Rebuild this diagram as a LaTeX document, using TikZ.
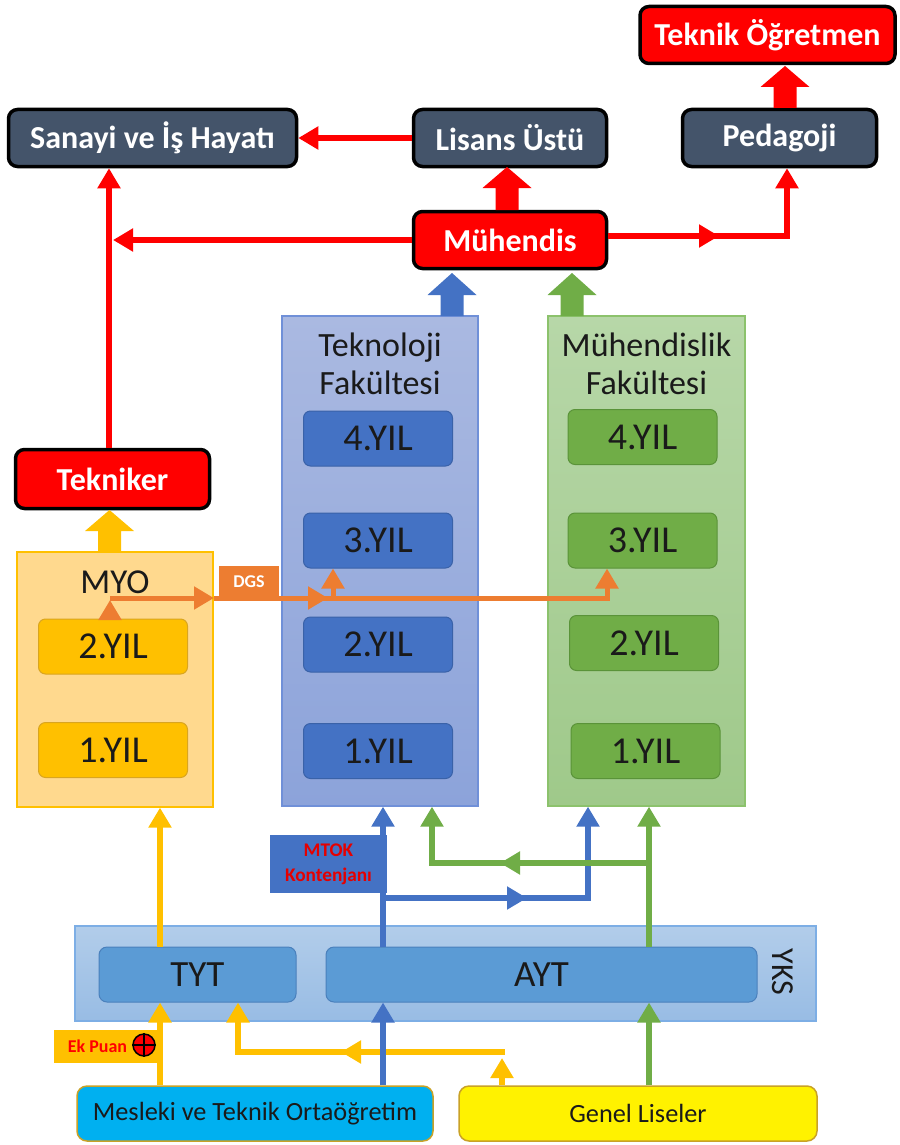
\documentclass[tikz,border=0pt]{standalone}
\usepackage{fontspec}
\setmainfont{Carlito}
\usetikzlibrary{arrows.meta}
\definecolor{slate}{HTML}{44546A}
\definecolor{tekyear}{HTML}{4472C4}
\definecolor{tekyeard}{HTML}{3A62A8}
\definecolor{tektop}{HTML}{AAB9E1}
\definecolor{tekbot}{HTML}{8CA3DA}
\definecolor{tekbord}{HTML}{7090D8}
\definecolor{muhyear}{HTML}{70AD47}
\definecolor{muhyeard}{HTML}{5A9339}
\definecolor{muhtop}{HTML}{B7D7A8}
\definecolor{muhbot}{HTML}{9FC98A}
\definecolor{muhbord}{HTML}{8CC26C}
\definecolor{myoyear}{HTML}{FFC000}
\definecolor{myoyeard}{HTML}{D9A520}
\definecolor{myofill}{HTML}{FFD98E}
\definecolor{ykstop}{HTML}{B2CDEA}
\definecolor{yksbot}{HTML}{98BCE4}
\definecolor{yksbord}{HTML}{7DAEE5}
\definecolor{exam}{HTML}{5B9BD5}
\definecolor{examd}{HTML}{4A80BC}
\definecolor{mesfill}{HTML}{00B0F0}
\definecolor{goldb}{HTML}{C9A227}
\definecolor{yel}{HTML}{FFC000}
\definecolor{blu}{HTML}{4472C4}
\definecolor{grn}{HTML}{70AD47}
\definecolor{org}{HTML}{ED7D31}
\definecolor{txt}{HTML}{1A1A1A}
\newcommand{\blockarr}[5]{%
\fill[#1] ({#2-11.5},#3) -- ({#2-11.5},#4) -- ({#2-24.5},#4) -- (#2,#5) -- ({#2+24.5},#4) -- ({#2+11.5},#4) -- ({#2+11.5},#3) -- cycle;}
\tikzset{
  topbox/.style={draw=black, line width=3.5pt, rounded corners=9pt, fill=slate, text=white,
    font=\fontsize{32}{38}\selectfont\bfseries, minimum height=57pt, inner sep=0pt},
  redbox/.style={topbox, fill=red},
  fac/.style={draw=#1, line width=1.2pt, inner sep=0pt},
  yearbox/.style={rounded corners=7pt, line width=1pt, minimum width=149pt, minimum height=55pt,
    font=\fontsize{38}{44}\selectfont, text=txt, inner sep=0pt},
  titletext/.style={font=\fontsize{34}{38}\selectfont, text=txt, align=center},
  exambox/.style={draw=examd, fill=exam, line width=1pt, rounded corners=8pt, minimum height=55pt,
    font=\fontsize{37}{42}\selectfont, text=txt, inner sep=0pt},
  schoolbox/.style={draw=goldb, line width=1.5pt, rounded corners=10pt, minimum height=55pt,
    font=\fontsize{26.3}{30}\selectfont, text=txt, inner sep=0pt},
  headr/.style={-{Triangle[length=20pt,width=22pt]}},
  redc/.style={draw=red, line width=6pt},
  yelc/.style={draw=yel, line width=6.5pt},
  bluc/.style={draw=blu, line width=6.5pt},
  grnc/.style={draw=grn, line width=6.5pt},
  orgc/.style={draw=org, line width=5pt},
}
\begin{document}
\begin{tikzpicture}[x=1pt,y=-1pt]
\useasboundingbox (0,0) rectangle (899,1145);

% ---------- top boxes ----------
\node[redbox, minimum width=255pt] (tok) at (767.5,35) {Teknik Öğretmen};
\node[topbox, minimum width=288pt] (san) at (152.5,138) {Sanayi ve İş Hayatı};
\node[topbox, minimum width=193pt] (lis) at (510,138) {Lisans Üstü};
\node[topbox, minimum width=194pt] (ped) at (779.5,138) {Pedagoji};
\node[redbox, minimum width=193pt] (muh) at (510,240) {Mühendis};
\node[redbox, minimum width=194pt, minimum height=59pt] (tekn) at (112.5,479) {Tekniker};

% ---------- faculty columns ----------
\node[fac=tekbord, top color=tektop, bottom color=tekbot, minimum width=196pt, minimum height=490pt] (tek) at (380,561) {};
\node[fac=muhbord, top color=muhtop, bottom color=muhbot, minimum width=197pt, minimum height=490pt] (muhf) at (646.5,561) {};
\node[fac=myoyear, fill=myofill, minimum width=196pt, minimum height=255pt] (myo) at (115,679.5) {};

\node[titletext] (tekt) at (380,364) {Teknoloji\\Fakültesi};
\node[titletext] (muht) at (646.5,364) {Mühendislik\\Fakültesi};
\node[titletext, font=\fontsize{35}{40}\selectfont] (myot) at (115,582) {MYO};

\node[yearbox, draw=tekyeard, fill=tekyear] (t4) at (378,438.5) {4.YIL};
\node[yearbox, draw=tekyeard, fill=tekyear] (t3) at (378,540.5) {3.YIL};
\node[yearbox, draw=tekyeard, fill=tekyear] (t2) at (378,644.5) {2.YIL};
\node[yearbox, draw=tekyeard, fill=tekyear] (t1) at (378,751) {1.YIL};

\node[yearbox, draw=muhyeard, fill=muhyear] (m4) at (642.5,437) {4.YIL};
\node[yearbox, draw=muhyeard, fill=muhyear] (m3) at (642.5,540.5) {3.YIL};
\node[yearbox, draw=muhyeard, fill=muhyear] (m2) at (644,643) {2.YIL};
\node[yearbox, draw=muhyeard, fill=muhyear] (m1) at (645.5,751) {1.YIL};

\node[yearbox, draw=myoyeard, fill=myoyear] (y2) at (113,646.5) {2.YIL};
\node[yearbox, draw=myoyeard, fill=myoyear] (y1) at (113,750) {1.YIL};

% ---------- YKS ----------
\node[draw=yksbord, line width=1.2pt, top color=ykstop, bottom color=yksbot, minimum width=741pt, minimum height=95pt, inner sep=0pt] (yks) at (445.5,973.5) {};
\node[exambox, minimum width=197pt] (tyt) at (197.5,974.5) {TYT};
\node[exambox, minimum width=431pt] (ayt) at (541.5,974.5) {AYT};
\node[rotate=-90, font=\fontsize{32}{36}\selectfont, text=txt] (ykst) at (783,972) {YKS};

% ---------- schools ----------
\node[schoolbox, fill=mesfill, minimum width=356pt] (mes) at (255,1113.5) {Mesleki ve Teknik Ortaöğretim};
\node[schoolbox, fill=yellow, minimum width=358pt] (gen) at (638,1113.5) {Genel Liseler};

% ---------- block arrows ----------
\blockarr{red}{507}{210}{188}{167}
\blockarr{red}{785}{108}{87}{66}
\blockarr{yel}{109.5}{552}{531}{510}
\blockarr{blu}{452}{316}{295}{273}
\blockarr{grn}{572}{316}{295}{273}

% ---------- red connectors ----------
\coordinate (rv) at (109,240);
\coordinate (rp) at (787,236);
\draw[redc, headr] (lis.west) -- (san.east);
\draw[redc, headr] (muh.west) -- ([xshift=4pt]rv);
\draw[redc, headr] (tekn.north -| rv) -- (san.south -| rv);
\draw[redc, headr] (muh.east |- rp) -- (rp) -- (ped.south -| rp);
\draw[redc, headr] (697,236) -- (719,236);

% ---------- yellow connectors ----------
\coordinate (yx) at (160,0);
\coordinate (yg) at (502,1052);
\coordinate (yt) at (238,1052);
\draw[yelc, headr] (mes.north -| yx) -- (tyt.south -| yx);
\draw[yelc, headr] (tyt.north -| yx) -- (myo.south -| yx);
\draw[yelc, headr] (gen.north -| yg) -- ([yshift=-6pt]yg);
\draw[yelc, headr] ([xshift=3pt]yg) -- (yt) -- (tyt.south -| yt);
\draw[yelc, headr] (363,1052) -- (341,1052);

% ---------- blue connectors ----------
\coordinate (bx) at (383,898);
\coordinate (bm) at (588,898);
\draw[bluc, headr] (mes.north -| bx) -- (ayt.south -| bx);
\draw[bluc, headr] (ayt.north -| bx) -- (tek.south -| bx);
\draw[bluc, headr] (bx) -- (bm) -- (muhf.south -| bm);
\draw[bluc, headr] (505,898) -- (527,898);

% ---------- green connectors ----------
\coordinate (gx) at (649,863);
\coordinate (gt) at (432,863);
\draw[grnc, headr] (gen.north -| gx) -- (ayt.south -| gx);
\draw[grnc, headr] (ayt.north -| gx) -- (muhf.south -| gx);
\draw[grnc, headr] (gx) -- (gt) -- (tek.south -| gt);
\draw[grnc, headr] (522,863) -- (500,863);

% ---------- orange DGS connectors ----------
\coordinate (o1) at (110,598);
\coordinate (o2) at (214,598);
\coordinate (o3) at (333,598);
\coordinate (o4) at (607,598);
\draw[orgc, headr] (y2.north -| o1) -- ([yshift=-2pt]o1);
\draw[orgc, headr] (o1) -- (o2);
\draw[orgc, headr] (o2) -- (o4) -- (m3.south -| o4);
\draw[orgc, headr] (o3) -- (t3.south -| o3);
\draw[orgc, headr] (306,598) -- (328,598);

% ---------- labels ----------
\node[fill=org, minimum width=60pt, minimum height=31pt, inner sep=0pt, text=white,
  font=\fontsize{18}{20}\selectfont\bfseries] (dgs) at (249,581.5) {DGS};
\node[fill=blu, minimum width=117pt, minimum height=58pt, inner sep=0pt, text=red!90!black, align=center,
  font=\fontsize{19.3}{25}\selectfont\bfseries] (mtok) at (328.5,864) {MTOK\\Kontenjanı};
\node[fill=yel, minimum width=103pt, minimum height=33pt, inner sep=0pt] (ek) at (105.5,1046.5) {};
\node[text=red, font=\fontsize{18}{22}\selectfont\bfseries] (ekt) at (97.5,1046) {Ek Puan};
\node[circle, draw=black, fill=red, line width=1.5pt, minimum size=22pt, inner sep=0pt] (plus) at (144,1045) {};
\draw[black, line width=1.3pt] (plus.north) -- (plus.south) (plus.west) -- (plus.east);
\end{tikzpicture}
\end{document}
